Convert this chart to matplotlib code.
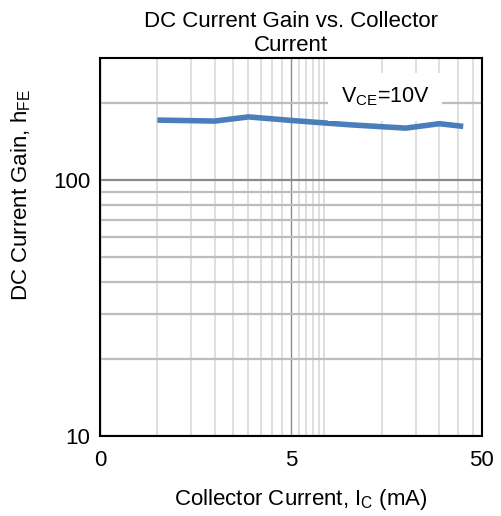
import matplotlib
matplotlib.use("Agg")
from matplotlib import pyplot as plt
from matplotlib.ticker import FixedLocator, NullFormatter

plt.rcParams['font.family'] = ['Liberation Sans', 'DejaVu Sans']
plt.rcParams['mathtext.default'] = 'regular'

# data
ic_ma = [1, 2, 3, 5, 10, 20, 30, 40]
hfe = [172, 170.5, 177, 171.5, 165, 160, 166.5, 162.5]

x_ticks = [0.5, 5, 50]
x_tick_labels = ["0", "5", "50"]
y_ticks = [10, 100]
y_tick_labels = ["10", "100"]
x_minor_grid = [1, 1.5, 2, 2.5, 3, 3.5, 4, 4.5, 5.5, 6, 6.5, 7, 7.5,
                15, 22.5, 30, 37.5, 45]
y_minor_grid = [20, 30, 40, 50, 60, 70, 80, 90, 200]

fig = plt.figure(figsize=(5.02, 5.16), dpi=100)
ax = fig.add_axes([0.199, 0.155, 0.7606, 0.732])

ax.set_xscale('log')
ax.set_yscale('log')
ax.set_xlim(0.5, 50)
ax.set_ylim(10, 300)

# grid
ax.xaxis.set_minor_locator(FixedLocator(x_minor_grid))
ax.yaxis.set_minor_locator(FixedLocator(y_minor_grid))
ax.xaxis.set_minor_formatter(NullFormatter())
ax.yaxis.set_minor_formatter(NullFormatter())
ax.set_xticks(x_ticks)
ax.set_xticklabels(x_tick_labels)
ax.set_yticks(y_ticks)
ax.set_yticklabels(y_tick_labels)
ax.grid(True, axis='x', which='minor', color='#d6d6d6', lw=1.1)
ax.grid(True, axis='y', which='minor', color='#bdbdbd', lw=1.6)
ax.grid(True, axis='x', which='major', color='#8c8c8c', lw=1.0)
ax.grid(True, axis='y', which='major', color='#8c8c8c', lw=1.6)
ax.set_axisbelow(True)

ax.tick_params(which='both', length=0, labelsize=16)
ax.tick_params(axis='x', pad=10)
ax.tick_params(axis='y', pad=7)
for s in ax.spines.values():
    s.set_linewidth(1.5)
    s.set_color('black')

ax.plot(ic_ma, hfe, color='#4a7ebb', lw=4, solid_capstyle='butt', zorder=3)

ax.text(15.6, 212, "V$_{CE}$=10V", fontsize=15.5, ha='center', va='center',
        bbox=dict(facecolor='white', edgecolor='none', pad=9), zorder=4)

ax.set_title("DC Current Gain vs. Collector\nCurrent", fontsize=16, pad=5,
             linespacing=1.2)
ax.set_xlabel("Collector Current, I$_C$ (mA)", fontsize=16)
ax.set_ylabel("DC Current Gain, h$_{FE}$", fontsize=16)
ax.xaxis.set_label_coords(0.527, -0.135)
ax.yaxis.set_label_coords(-0.176, 0.638)

fig.savefig("out.png", dpi=100)
